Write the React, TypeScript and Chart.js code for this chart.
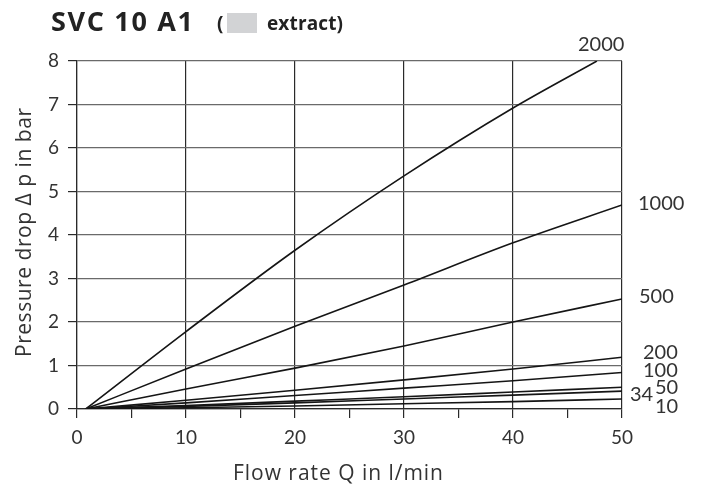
import React, { useEffect, useRef } from "react";
import { Chart, registerables } from "chart.js";

Chart.register(...registerables);

const seriesNames = ["2000", "1000", "500", "200", "100", "50", "34", "10"];
const flowStd = [0.8, 10, 20, 30, 40, 50];
const flow2000 = [0.8, 10, 20, 30, 40, 47.7];
const dp2000 = [0, 1.78, 3.65, 5.36, 6.92, 8.0];
const dp1000 = [0, 0.92, 1.9, 2.85, 3.82, 4.69];
const dp500 = [0, 0.46, 0.94, 1.45, 2.0, 2.53];
const dp200 = [0, 0.2, 0.43, 0.67, 0.92, 1.19];
const dp100 = [0, 0.14, 0.31, 0.48, 0.65, 0.84];
const dp50 = [0, 0.08, 0.18, 0.28, 0.39, 0.5];
const dp34 = [0, 0.06, 0.14, 0.23, 0.32, 0.41];
const dp10 = [0, 0.03, 0.07, 0.12, 0.17, 0.23];
const xTickLabels = ["0", "10", "20", "30", "40", "50"];
const yTickLabels = ["0", "1", "2", "3", "4", "5", "6", "7", "8"];

const FONT = "Lato, 'Open Sans', sans-serif";
const FONT2 = "'Open Sans', Lato, sans-serif";
const TEXT = "#333";

function fitText(ctx: any, text: string, x: number, y: number, w: number) {
  ctx.letterSpacing = "0px";
  const m = ctx.measureText(text).width;
  const n = Math.max(1, text.length - 1);
  const sp = (w - m) / n;
  ctx.letterSpacing = `${sp}px`;
  ctx.fillText(text, x, y);
  ctx.letterSpacing = "0px";
}

export default function App() {
  const ref = useRef<HTMLCanvasElement>(null);
  useEffect(() => {
    if (!ref.current) return;
    const allDp = [dp2000, dp1000, dp500, dp200, dp100, dp50, dp34, dp10];
    const datasets = allDp.map((arr, i) => ({
      label: seriesNames[i],
      data: arr.map((y, j) => ({ x: (i === 0 ? flow2000 : flowStd)[j], y })),
      showLine: true,
      borderColor: "#151515",
      borderWidth: 1.6,
      pointRadius: 0,
      cubicInterpolationMode: "monotone" as const,
      fill: false,
    }));
    // label nudges relative to each line's end point (pixels)
    const nudges = [
      [-19, -16],
      [16, -1],
      [17, -2],
      [21, -5],
      [21, -2],
      [33, 0],
      [8, 3],
      [33, 8],
    ];
    const annot = {
      id: "annot",
      afterDraw(chart: any) {
        const { ctx, scales } = chart;
        ctx.save();
        // title
        ctx.fillStyle = "#222";
        ctx.textBaseline = "alphabetic";
        ctx.textAlign = "left";
        ctx.font = `bold 27px ${FONT2}`;
        fitText(ctx, "SVC 10 A1", 51, 31, 142);
        ctx.font = `bold 19px ${FONT2}`;
        ctx.fillText("(", 217, 30);
        ctx.fillStyle = "#d2d3d5";
        ctx.fillRect(227, 13, 30, 20);
        ctx.fillStyle = "#222";
        fitText(ctx, "extract)", 267, 30, 76);
        // axis titles
        ctx.fillStyle = TEXT;
        ctx.font = `21px ${FONT2}`;
        ctx.textAlign = "left";
        ctx.textBaseline = "alphabetic";
        fitText(ctx, "Flow rate Q in l/min", 233, 480, 210);
        ctx.save();
        ctx.translate(31, 357);
        ctx.rotate(-Math.PI / 2);
        fitText(ctx, "Pressure drop \u0394 p in bar", 0, 0, 249);
        ctx.restore();
        // series labels
        ctx.font = `20px ${FONT}`;
        ctx.textAlign = "left";
        ctx.textBaseline = "middle";
        allDp.forEach((arr, i) => {
          const xs = i === 0 ? flow2000 : flowStd;
          const px = scales.x.getPixelForValue(xs[xs.length - 1]);
          const py = scales.y.getPixelForValue(arr[arr.length - 1]);
          ctx.fillText(seriesNames[i], px + nudges[i][0], py + nudges[i][1]);
        });
        ctx.restore();
      },
    };
    const chart = new Chart(ref.current, {
      type: "scatter",
      data: { datasets },
      options: {
        animation: false,
        responsive: false,
        layout: { padding: { top: 61, right: 83, left: 0, bottom: 0 } },
        plugins: { legend: { display: false }, tooltip: { enabled: false } },
        scales: {
          x: {
            type: "linear",
            min: 0,
            max: 50,
            afterFit: (s: any) => {
              s.height = 79;
            },
            afterBuildTicks: (s: any) => {
              const t = [];
              for (let v = 0; v <= 50; v += 5) t.push({ value: v });
              s.ticks = t;
            },
            ticks: {
              autoSkip: false,
              maxRotation: 0,
              padding: 8,
              color: TEXT,
              font: { family: FONT, size: 19 },
              callback: (v: any) => (v % 10 === 0 ? xTickLabels[v / 10] : ""),
            },
            grid: {
              color: (c: any) => (c.tick && c.tick.value % 10 === 0 ? "#2a2a2a" : "rgba(0,0,0,0)"),
              tickColor: "#2a2a2a",
              lineWidth: 1.2,
              tickLength: 9,
            },
            border: { display: true, color: "#2a2a2a", width: 1.2 },
          },
          y: {
            type: "linear",
            min: 0,
            max: 8,
            afterFit: (s: any) => {
              s.width = 77;
            },
            ticks: {
              stepSize: 1,
              padding: 9,
              color: TEXT,
              font: { family: FONT, size: 19 },
              callback: (v: any) => yTickLabels[v],
            },
            grid: {
              color: "#6a6a6a",
              tickColor: "#2a2a2a",
              lineWidth: 1.2,
              tickLength: 9,
            },
            border: { display: true, color: "#2a2a2a", width: 1.2 },
          },
        },
      },
      plugins: [annot],
    });
    return () => chart.destroy();
  }, []);
  return (
    <div style={{ position: "fixed", left: 0, top: 0, width: 705, height: 488, background: "#fff" }}>
      <canvas ref={ref} width={705} height={488} />
    </div>
  );
}
